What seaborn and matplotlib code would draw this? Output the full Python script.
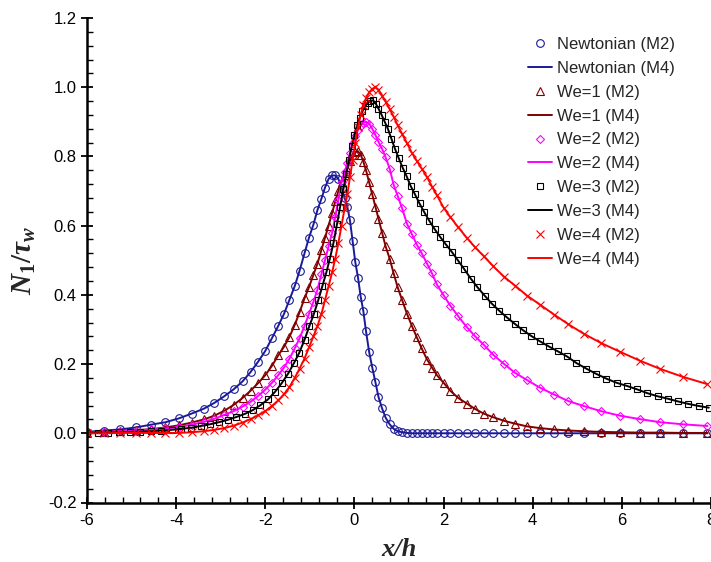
import numpy as np
import pandas as pd
import seaborn as sns
import matplotlib
matplotlib.use("Agg")
import matplotlib.pyplot as plt
from matplotlib.ticker import MultipleLocator, FixedLocator

# ---------------- data ----------------
x_mesh = [-6.0, -5.62, -5.26, -4.9, -4.56, -4.24, -3.94, -3.65, -3.38, -3.14,
          -2.92, -2.71, -2.51, -2.33, -2.16, -2.0, -1.85, -1.71, -1.58, -1.46,
          -1.34, -1.23, -1.12, -1.02, -0.92, -0.83, -0.74, -0.66, -0.58, -0.5,
          -0.43, -0.36, -0.29, -0.22, -0.16, -0.1, -0.04, 0.02, 0.08, 0.14,
          0.2, 0.26, 0.33, 0.4, 0.47, 0.54, 0.62, 0.7, 0.79, 0.88,
          0.97, 1.07, 1.18, 1.29, 1.4, 1.51, 1.63, 1.74, 1.85, 2.0,
          2.15, 2.33, 2.52, 2.71, 2.9, 3.12, 3.36, 3.6, 3.87, 4.16,
          4.48, 4.8, 5.14, 5.53, 5.95, 6.4, 6.86, 7.37, 7.92]

newtonian = [0.004, 0.008, 0.011, 0.017, 0.025, 0.032, 0.043, 0.057, 0.071, 0.088,
             0.107, 0.127, 0.150, 0.177, 0.207, 0.238, 0.275, 0.310, 0.345, 0.385,
             0.425, 0.470, 0.520, 0.565, 0.603, 0.645, 0.678, 0.710, 0.735, 0.745,
             0.745, 0.735, 0.710, 0.680, 0.655, 0.615, 0.555, 0.494, 0.450, 0.395,
             0.353, 0.295, 0.235, 0.190, 0.148, 0.105, 0.072, 0.045, 0.026, 0.013,
             0.006, 0.003, 0.001, 0.0, 0.0, 0.0, 0.0, 0.0, 0.0, 0.0,
             0.0, 0.0, 0.0, 0.0, 0.0, 0.0, 0.0, 0.0, 0.0, 0.0,
             0.0, 0.0, 0.0, 0.0, 0.0, 0.0, 0.0, 0.0, 0.0]

we1 = [0.002, 0.004, 0.006, 0.009, 0.012, 0.017, 0.023, 0.031, 0.040, 0.051,
       0.065, 0.082, 0.102, 0.123, 0.145, 0.168, 0.195, 0.225, 0.250, 0.278,
       0.313, 0.350, 0.390, 0.422, 0.458, 0.490, 0.530, 0.565, 0.600, 0.637,
       0.670, 0.700, 0.727, 0.745, 0.765, 0.787, 0.803, 0.813, 0.815, 0.805,
       0.785, 0.760, 0.725, 0.690, 0.655, 0.620, 0.580, 0.540, 0.505, 0.462,
       0.422, 0.385, 0.345, 0.310, 0.277, 0.245, 0.213, 0.190, 0.168, 0.146,
       0.123, 0.102, 0.086, 0.070, 0.057, 0.046, 0.036, 0.028, 0.020, 0.015,
       0.011, 0.008, 0.006, 0.004, 0.003, 0.002, 0.002, 0.001, 0.001]

we2 = [0.002, 0.004, 0.006, 0.008, 0.011, 0.014, 0.018, 0.025, 0.033, 0.042,
       0.053, 0.064, 0.077, 0.091, 0.108, 0.126, 0.146, 0.168, 0.190, 0.215,
       0.245, 0.275, 0.310, 0.345, 0.380, 0.415, 0.460, 0.500, 0.540, 0.580,
       0.625, 0.675, 0.725, 0.755, 0.780, 0.810, 0.838, 0.860, 0.877, 0.889,
       0.897, 0.900, 0.895, 0.880, 0.862, 0.842, 0.822, 0.797, 0.765, 0.718,
       0.686, 0.650, 0.605, 0.575, 0.545, 0.520, 0.490, 0.462, 0.430, 0.399,
       0.369, 0.338, 0.307, 0.280, 0.256, 0.226, 0.200, 0.175, 0.154, 0.132,
       0.112, 0.093, 0.079, 0.064, 0.051, 0.041, 0.032, 0.026, 0.021]

we4 = [0.0, 0.0, 0.001, 0.001, 0.001, 0.001, 0.001, 0.003, 0.006, 0.010,
       0.015, 0.022, 0.031, 0.041, 0.052, 0.064, 0.079, 0.095, 0.113, 0.133,
       0.160, 0.187, 0.216, 0.248, 0.280, 0.310, 0.345, 0.385, 0.425, 0.465,
       0.505, 0.550, 0.600, 0.650, 0.690, 0.740, 0.790, 0.840, 0.885, 0.920,
       0.948, 0.968, 0.985, 0.995, 1.000, 0.993, 0.975, 0.958, 0.937, 0.915,
       0.890, 0.865, 0.838, 0.810, 0.787, 0.765, 0.740, 0.713, 0.688, 0.652,
       0.625, 0.595, 0.565, 0.537, 0.512, 0.482, 0.452, 0.427, 0.398, 0.372,
       0.343, 0.315, 0.288, 0.261, 0.236, 0.210, 0.186, 0.163, 0.142]

x_we3 = [-6.0, -5.76, -5.52, -5.28, -5.04, -4.8, -4.56, -4.33, -4.1, -3.88,
         -3.66, -3.45, -3.24, -3.04, -2.84, -2.65, -2.46, -2.28, -2.11, -1.94,
         -1.78, -1.63, -1.49, -1.36, -1.24, -1.12, -1.01, -0.91, -0.81, -0.72,
         -0.63, -0.55, -0.47, -0.39, -0.32, -0.25, -0.18, -0.12, -0.06, 0.0,
         0.06, 0.12, 0.18, 0.24, 0.3, 0.36, 0.42, 0.48, 0.54, 0.61,
         0.68, 0.75, 0.83, 0.91, 0.99, 1.08, 1.17, 1.26, 1.36, 1.46,
         1.57, 1.68, 1.8, 1.92, 2.05, 2.18, 2.32, 2.46, 2.61, 2.76,
         2.92, 3.08, 3.25, 3.42, 3.6, 3.78, 3.97, 4.16, 4.36, 4.56,
         4.77, 4.98, 5.2, 5.42, 5.65, 5.88, 6.11, 6.34, 6.57, 6.8,
         7.03, 7.26, 7.49, 7.72, 7.95]

we3 = [0.001, 0.002, 0.002, 0.003, 0.004, 0.005, 0.006, 0.008, 0.010, 0.013,
       0.016, 0.021, 0.026, 0.032, 0.039, 0.047, 0.056, 0.067, 0.081, 0.098,
       0.120, 0.145, 0.172, 0.202, 0.232, 0.270, 0.310, 0.345, 0.385, 0.425,
       0.465, 0.505, 0.550, 0.605, 0.655, 0.705, 0.750, 0.790, 0.830, 0.862,
       0.890, 0.912, 0.930, 0.945, 0.955, 0.961, 0.962, 0.952, 0.938, 0.920,
       0.900, 0.880, 0.851, 0.822, 0.796, 0.768, 0.743, 0.715, 0.690, 0.664,
       0.638, 0.614, 0.590, 0.568, 0.546, 0.525, 0.500, 0.475, 0.447, 0.422,
       0.398, 0.375, 0.354, 0.335, 0.316, 0.298, 0.281, 0.266, 0.251, 0.237,
       0.222, 0.203, 0.187, 0.172, 0.158, 0.146, 0.137, 0.127, 0.116, 0.107,
       0.100, 0.092, 0.085, 0.079, 0.074]

series_names = ["Newtonian", "We=1", "We=2", "We=3", "We=4"]
xticks = [-6, -4, -2, 0, 2, 4, 6, 8]
xtick_labels = ["-6", "-4", "-2", "0", "2", "4", "6", "8"]
yticks = [-0.2, 0.0, 0.2, 0.4, 0.6, 0.8, 1.0, 1.2]
ytick_labels = ["-0.2", "0.0", "0.2", "0.4", "0.6", "0.8", "1.0", "1.2"]

# ---------------- style ----------------
sns.set_style("ticks")
plt.rcParams["font.family"] = ["Liberation Sans", "DejaVu Sans"]
plt.rcParams["axes.unicode_minus"] = False
plt.rcParams["mathtext.fontset"] = "custom"
plt.rcParams["mathtext.it"] = "Liberation Serif:italic:bold"
plt.rcParams["mathtext.rm"] = "Liberation Serif:bold"
plt.rcParams["mathtext.bf"] = "Liberation Serif:bold"

fig = plt.figure(figsize=(7.11, 5.62), dpi=100)
ax = fig.add_axes([87 / 711, 1 - 502.5 / 562, 1 - 87 / 711, (502.5 - 18) / 562])

styles = {
    "Newtonian": dict(color="#1a1a96", marker="o", ms=5.5),
    "We=1": dict(color="#800000", marker="^", ms=5.3),
    "We=2": dict(color="#ff00ff", marker="D", ms=4.0),
    "We=3": dict(color="#000000", marker="s", ms=4.8),
    "We=4": dict(color="#ff0000", marker="x", ms=5.8),
}
data = {
    "Newtonian": (x_mesh, newtonian),
    "We=1": (x_mesh, we1),
    "We=2": (x_mesh, we2),
    "We=3": (x_we3, we3),
    "We=4": (x_mesh, we4),
}

for name in series_names:
    xs, ys = data[name]
    st = styles[name]
    df = pd.DataFrame({"x": xs, "y": ys})
    sns.lineplot(data=df, x="x", y="y", ax=ax, sort=False, estimator=None,
                 linestyle="None", marker=st["marker"], markersize=st["ms"],
                 markerfacecolor="none", markeredgecolor=st["color"],
                 markeredgewidth=0.8, color=st["color"], label=f"{name} (M2)")
    sns.lineplot(data=df, x="x", y="y", ax=ax, sort=False, estimator=None,
                 color=st["color"], linewidth=1.4, label=f"{name} (M4)")

ax.set_xlim(-6, 8)
ax.set_ylim(-0.2, 1.2)
ax.xaxis.set_major_locator(FixedLocator(xticks))
ax.set_xticklabels(xtick_labels)
ax.yaxis.set_major_locator(FixedLocator(yticks))
ax.set_yticklabels(ytick_labels)
ax.xaxis.set_minor_locator(MultipleLocator(0.4))
ax.yaxis.set_minor_locator(MultipleLocator(0.04))
ax.tick_params(which="major", direction="inout", length=9, width=1.3,
               labelsize=12, colors="black", pad=3)
ax.tick_params(which="minor", direction="in", length=4, width=1.0, colors="black")
for side in ["top", "right"]:
    ax.spines[side].set_visible(False)
for side in ["left", "bottom"]:
    ax.spines[side].set_linewidth(1.8)
    ax.spines[side].set_color("black")

ax.set_xlabel("x/h", fontfamily="Liberation Serif", fontstyle="italic",
              fontweight="bold", fontsize=19, labelpad=7)
ax.set_ylabel(r"$N_{\mathrm{1}}/\tau_w$", fontsize=21, labelpad=7)

ax.legend(loc="upper right", bbox_to_anchor=(0.949, 0.934),
          bbox_transform=fig.transFigure, frameon=False, fontsize=12,
          handlelength=1.45, handletextpad=0.3, labelspacing=0.53,
          borderaxespad=0, borderpad=0, numpoints=1)

fig.savefig("out.png", dpi=100)
